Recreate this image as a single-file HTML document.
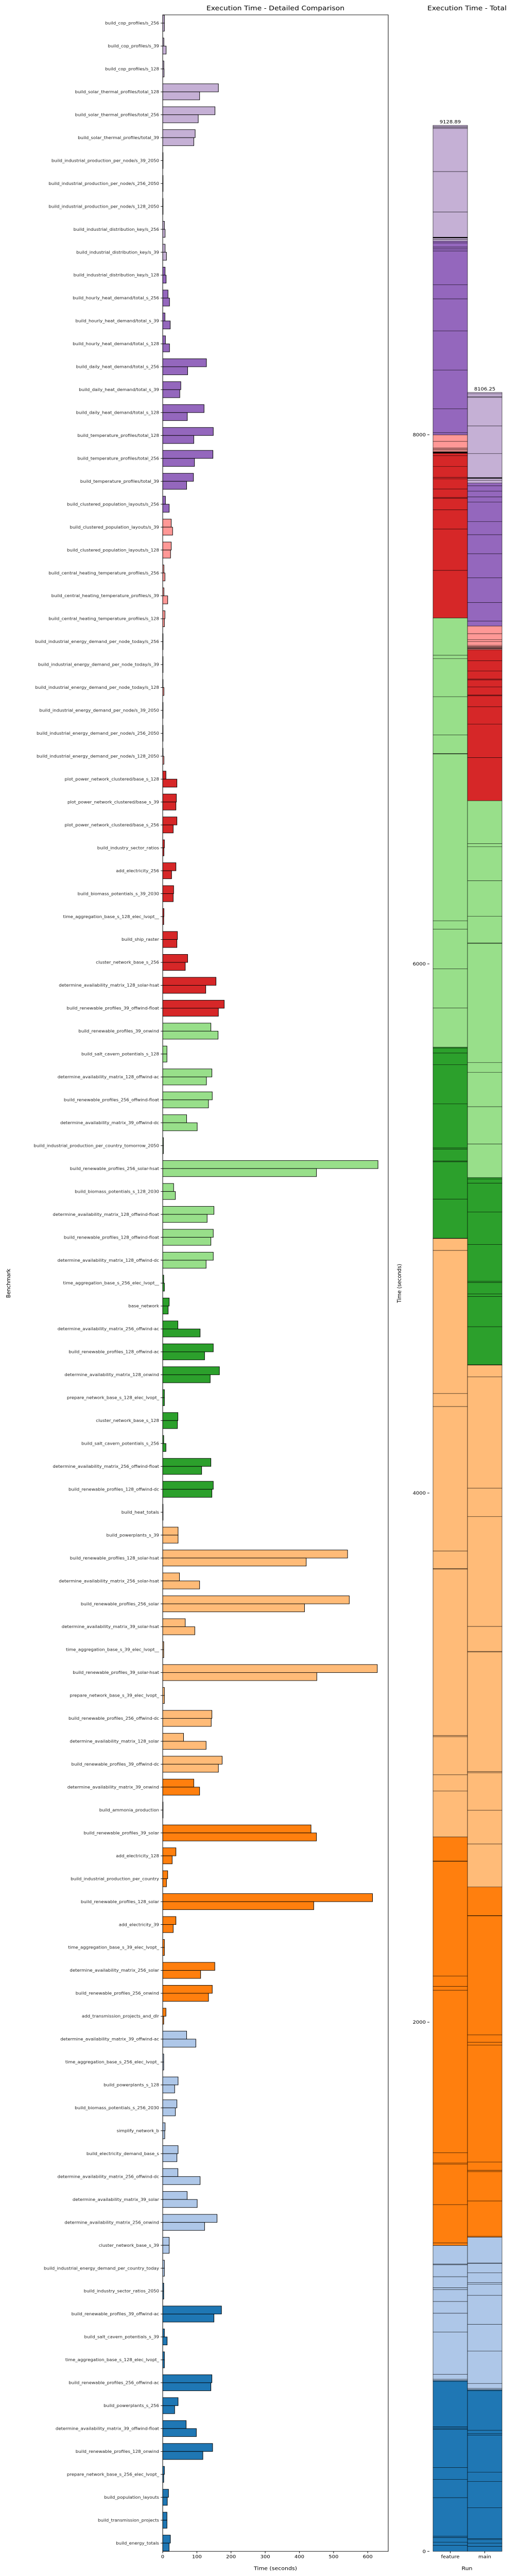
<!DOCTYPE html>
<html>
<head>
<meta charset="utf-8">
<style>
  html,body{margin:0;padding:0;background:#fff;width:100%;height:100%;overflow:hidden;}
  svg{display:block;position:absolute;left:0;top:0;width:1008px;height:100vh;font-family:"DejaVu Sans","Liberation Sans",sans-serif;}
</style>
</head>
<body>
<svg id="fig" viewBox="0 0 1008 5540" preserveAspectRatio="none" xmlns="http://www.w3.org/2000/svg">
  <rect x="0" y="0" width="1008" height="5540" fill="#fff"/>
  <text x="535" y="22" text-anchor="middle" font-size="14" fill="#000">Execution Time - Detailed Comparison</text>
  <text x="907" y="22" text-anchor="middle" font-size="14" fill="#000">Execution Time - Total</text>
  <text x="0" y="0" transform="translate(20,2760) rotate(-90)" text-anchor="middle" font-size="11" fill="#000">Benchmark</text>
  <text x="535" y="5527" text-anchor="middle" font-size="11" fill="#000">Time (seconds)</text>
  <text x="0" y="0" transform="translate(779,2760) rotate(-90)" text-anchor="middle" font-size="11" fill="#000">Time (seconds)</text>
  <text x="907" y="5527" text-anchor="middle" font-size="11" fill="#000">Run</text>
  <g id="detail"></g>
  <g id="total"></g>
</svg>
<script>
const categories = [
"build_cop_profiles/s_256","build_cop_profiles/s_39","build_cop_profiles/s_128",
"build_solar_thermal_profiles/total_128","build_solar_thermal_profiles/total_256","build_solar_thermal_profiles/total_39",
"build_industrial_production_per_node/s_39_2050","build_industrial_production_per_node/s_256_2050","build_industrial_production_per_node/s_128_2050",
"build_industrial_distribution_key/s_256","build_industrial_distribution_key/s_39","build_industrial_distribution_key/s_128",
"build_hourly_heat_demand/total_s_256","build_hourly_heat_demand/total_s_39","build_hourly_heat_demand/total_s_128",
"build_daily_heat_demand/total_s_256","build_daily_heat_demand/total_s_39","build_daily_heat_demand/total_s_128",
"build_temperature_profiles/total_128","build_temperature_profiles/total_256","build_temperature_profiles/total_39",
"build_clustered_population_layouts/s_256","build_clustered_population_layouts/s_39","build_clustered_population_layouts/s_128",
"build_central_heating_temperature_profiles/s_256","build_central_heating_temperature_profiles/s_39","build_central_heating_temperature_profiles/s_128",
"build_industrial_energy_demand_per_node_today/s_256","build_industrial_energy_demand_per_node_today/s_39","build_industrial_energy_demand_per_node_today/s_128",
"build_industrial_energy_demand_per_node/s_39_2050","build_industrial_energy_demand_per_node/s_256_2050","build_industrial_energy_demand_per_node/s_128_2050",
"plot_power_network_clustered/base_s_128","plot_power_network_clustered/base_s_39","plot_power_network_clustered/base_s_256",
"build_industry_sector_ratios","add_electricity_256","build_biomass_potentials_s_39_2030",
"time_aggregation_base_s_128_elec_lvopt__","build_ship_raster","cluster_network_base_s_256",
"determine_availability_matrix_128_solar-hsat","build_renewable_profiles_39_offwind-float","build_renewable_profiles_39_onwind",
"build_salt_cavern_potentials_s_128","determine_availability_matrix_128_offwind-ac","build_renewable_profiles_256_offwind-float",
"determine_availability_matrix_39_offwind-dc","build_industrial_production_per_country_tomorrow_2050","build_renewable_profiles_256_solar-hsat",
"build_biomass_potentials_s_128_2030","determine_availability_matrix_128_offwind-float","build_renewable_profiles_128_offwind-float",
"determine_availability_matrix_128_offwind-dc","time_aggregation_base_s_256_elec_lvopt__","base_network",
"determine_availability_matrix_256_offwind-ac","build_renewable_profiles_128_offwind-ac","determine_availability_matrix_128_onwind",
"prepare_network_base_s_128_elec_lvopt_","cluster_network_base_s_128","build_salt_cavern_potentials_s_256",
"determine_availability_matrix_256_offwind-float","build_renewable_profiles_128_offwind-dc","build_heat_totals",
"build_powerplants_s_39","build_renewable_profiles_128_solar-hsat","determine_availability_matrix_256_solar-hsat",
"build_renewable_profiles_256_solar","determine_availability_matrix_39_solar-hsat","time_aggregation_base_s_39_elec_lvopt__",
"build_renewable_profiles_39_solar-hsat","prepare_network_base_s_39_elec_lvopt_","build_renewable_profiles_256_offwind-dc",
"determine_availability_matrix_128_solar","build_renewable_profiles_39_offwind-dc","determine_availability_matrix_39_onwind",
"build_ammonia_production","build_renewable_profiles_39_solar","add_electricity_128",
"build_industrial_production_per_country","build_renewable_profiles_128_solar","add_electricity_39",
"time_aggregation_base_s_39_elec_lvopt_","determine_availability_matrix_256_solar","build_renewable_profiles_256_onwind",
"add_transmission_projects_and_dlr","determine_availability_matrix_39_offwind-ac","time_aggregation_base_s_256_elec_lvopt_",
"build_powerplants_s_128","build_biomass_potentials_s_256_2030","simplify_network_b",
"build_electricity_demand_base_s","determine_availability_matrix_256_offwind-dc","determine_availability_matrix_39_solar",
"determine_availability_matrix_256_onwind","cluster_network_base_s_39","build_industrial_energy_demand_per_country_today",
"build_industry_sector_ratios_2050","build_renewable_profiles_39_offwind-ac","build_salt_cavern_potentials_s_39",
"time_aggregation_base_s_128_elec_lvopt_","build_renewable_profiles_256_offwind-ac","build_powerplants_s_256",
"determine_availability_matrix_39_offwind-float","build_renewable_profiles_128_onwind","prepare_network_base_s_256_elec_lvopt_",
"build_population_layouts","build_transmission_projects","build_energy_totals"
];
const featureTimes = [
5,3.4,3.4, 163,153,95, 1,1,1, 5,7,7, 15.5,6.6,8, 128,53,121, 148,147,90, 8,25,25, 3.6,3.6,6.6, 1,1,1, 1,1,1,
9.5,40,41.6, 5,38.7,32, 3.6,43,73, 156,180,141, 12.4,144,145, 70,2,630, 32,150,148, 148,3,19, 44.5,148,166,
5,44.5,3, 141,148,1, 45,541,49, 546,66,3, 628,5,144, 61,174,91, 1,434,38.7, 14.6,614,38.7, 5,152.5,145,
9.5,70,3, 45,41.6,7, 45,44.5,71.5, 159,19,5, 3,172,5, 5,144,45, 68.6,146,5, 17,12.5,22.5
];
const mainTimes = [
5,10,4, 108,104,91, 1,1,1, 7,11,10, 20,22,20, 73,50,72, 91,93,70, 19,29,23, 6.6,14.6,5, 1,1,3.6, 1,1,3.6,
41.6,38.7,30.7, 3.6,26,30.7, 3,41.6,66, 126,163,162, 12.4,128,134, 101,2,450, 37,130,141, 127,5,16, 109.5,122.6,139,
5,43,9.5, 114,144,1, 45,420,108, 415,94,3, 451,5,142, 127,163,108, 1,450,27.7, 11,442,30.7, 5,111,134,
3,97,3, 35,37,6, 41.6,109.5,101, 122.6,19,5, 3,150,13, 5,141,35, 98.5,117.5,3, 13.5,12.5,18.8
];
const xTicks = [0,100,200,300,400,500,600];
const runs = ["feature","main"];
const totalLabels = ["9128.89","8106.25"];
const yTicksTotal = [0,2000,4000,6000,8000];

const NS = "http://www.w3.org/2000/svg";
const palette = ["#1f77b4","#aec7e8","#ff7f0e","#ffbb78","#2ca02c","#98df8a","#d62728","#ff9896","#9467bd","#c5b0d5"];
const PL = 316, PR = 754, PT = 32, PB = 5487, XMAX = 660;
const n = categories.length;
const step = (PB - PT) / (n - 1 + 0.72);
function xScale(v){ return PL + v / XMAX * (PR - PL); }
function yCenter(i){ return PT + 0.36 * step + i * step; }
function colorOf(i){ return palette[Math.min(9, Math.floor((n - 1 - i) / ((n - 1) / 9.9)))]; }
function mk(tag, attrs, parent){
  const e = document.createElementNS(NS, tag);
  for (const k in attrs) e.setAttribute(k, attrs[k]);
  parent.appendChild(e);
  return e;
}
const detail = document.getElementById("detail");
const total = document.getElementById("total");
const barH = 0.35 * step;

for (let i = 0; i < n; i++) {
  const yc = yCenter(i);
  const c = colorOf(i);
  const bf = mk("rect", {x: PL, y: yc - barH, width: Math.max(0.5, xScale(featureTimes[i]) - PL), height: barH, fill: c, stroke: "#000", "stroke-width": 1}, detail);
  
  
  const bm = mk("rect", {x: PL, y: yc, width: Math.max(0.5, xScale(mainTimes[i]) - PL), height: barH, fill: c, stroke: "#000", "stroke-width": 1}, detail);
  
  
  const tk = mk("line", {x1: PL - 4, x2: PL, y1: yc, y2: yc, stroke: "#000", "stroke-width": 1}, detail);
  
  
  const lb = mk("text", {x: PL - 7, y: yc + 3, "text-anchor": "end", "font-size": 8.6, fill: "#222"}, detail);
  lb.textContent = categories[i];
  
  
}
const frame = mk("rect", {x: PL, y: PT, width: PR - PL, height: PB - PT, fill: "none", stroke: "#000", "stroke-width": 1}, detail);


for (const t of xTicks) {
  const x = xScale(t);
  const l = mk("line", {x1: x, x2: x, y1: PB, y2: PB + 4, stroke: "#000", "stroke-width": 1}, detail);
  
  
  const tx = mk("text", {x: x, y: PB + 15, "text-anchor": "middle", "font-size": 10, fill: "#000"}, detail);
  tx.textContent = String(t);
  
  
}

const TB = 5487, TK = 0.569;
function yTotal(v){ return TB - v * TK; }
const colX = [841, 908], colW = 67;
const series = [featureTimes, mainTimes];
for (let r = 0; r < 2; r++) {
  let acc = 0;
  for (let i = n - 1; i >= 0; i--) {
    const v = series[r][i];
    const y0 = yTotal(acc), y1 = yTotal(acc + v);
    const seg = mk("rect", {x: colX[r], y: y1, width: colW, height: Math.max(0.3, y0 - y1), fill: colorOf(i), stroke: "#000", "stroke-width": 0.6}, total);
    
    
    acc += v;
  }
  const lab = mk("text", {x: colX[r] + colW / 2, y: yTotal(acc) - 4, "text-anchor": "middle", "font-size": 10, fill: "#000"}, total);
  lab.textContent = totalLabels[r];
  
  
  const xt = mk("line", {x1: colX[r] + colW / 2, x2: colX[r] + colW / 2, y1: TB, y2: TB + 4, stroke: "#000", "stroke-width": 1}, total);
  
  
  const rl = mk("text", {x: colX[r] + colW / 2, y: TB + 15, "text-anchor": "middle", "font-size": 10, fill: "#000"}, total);
  rl.textContent = runs[r];
  
  
}
for (const t of yTicksTotal) {
  const y = yTotal(t);
  const l = mk("line", {x1: 830, x2: 834, y1: y, y2: y, stroke: "#000", "stroke-width": 1}, total);
  
  
  const tx = mk("text", {x: 827, y: y + 3.5, "text-anchor": "end", "font-size": 10, fill: "#000"}, total);
  tx.textContent = String(t);
  
  
}
</script>
</body>
</html>
